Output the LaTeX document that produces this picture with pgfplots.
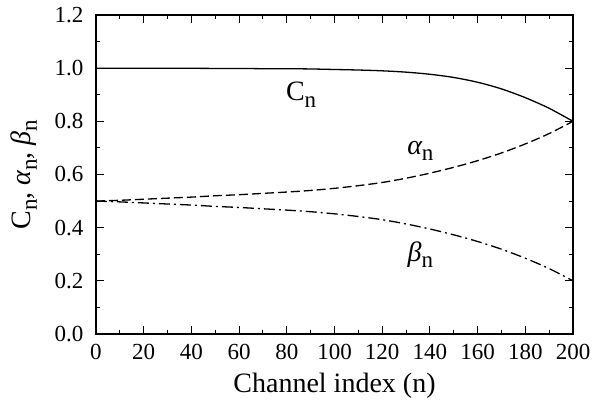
\documentclass[border=0pt]{standalone}
\usepackage{fontspec}
\setmainfont{Liberation Serif}
\usepackage{pgfplots}
\pgfplotsset{compat=1.18}
\newcommand{\sub}[1]{\raisebox{-0.22em}{\scalebox{0.82}{#1}}}
\begin{document}
\begin{tikzpicture}
\begin{axis}[
  name=ax,
  scale only axis, width=477pt, height=319pt,
  xmin=0, xmax=200, ymin=0, ymax=1.2,
  xtick={0,20,40,60,80,100,120,140,160,180,200},
  xticklabels={0,20,40,60,80,100,120,140,160,180,200},
  ytick={0,0.2,0.4,0.6,0.8,1.0,1.2},
  yticklabels={0.0,0.2,0.4,0.6,0.8,1.0,1.2},
  minor x tick num=1, minor y tick num=1,
  tick align=inside, major tick length=8pt, minor tick length=4pt,
  axis line style={line width=1.2pt},
  every tick/.style={black, line width=1pt},
  tick label style={font=\fontsize{23}{27}\selectfont},
  xticklabel shift=7pt, yticklabel shift=9pt,
  label style={font=\fontsize{28}{32}\selectfont},
  xlabel={Channel index (n)},
  ylabel={C\sub{n}, {\itshape α}\sub{n}, {\itshape β}\sub{n}},
  xlabel shift=6pt, ylabel shift=11pt,
]
\addplot[black, line width=1.3pt, smooth] coordinates {
(0,1.0) (10,1.0) (20,1.0) (30,1.0) (40,0.9995) (50,0.999) (60,0.999) (70,0.998)
(80,0.998) (90,0.997) (100,0.995) (110,0.993) (120,0.99) (130,0.985) (140,0.977)
(150,0.965) (160,0.947) (170,0.922) (180,0.889) (190,0.849) (200,0.8)};
\addplot[black, line width=1.3pt, smooth, dash pattern=on 9pt off 4pt] coordinates {
(0,0.5) (10,0.503) (20,0.507) (30,0.511) (40,0.515) (50,0.52) (60,0.524) (70,0.529)
(80,0.534) (90,0.54) (100,0.548) (110,0.558) (120,0.57) (130,0.586) (140,0.605)
(150,0.627) (160,0.652) (170,0.681) (180,0.715) (190,0.754) (200,0.8)};
\addplot[black, line width=1.3pt, smooth, dash pattern=on 11pt off 4pt on 2pt off 4pt] coordinates {
(0,0.5) (10,0.497) (20,0.493) (30,0.489) (40,0.485) (50,0.48) (60,0.476) (70,0.471)
(80,0.466) (90,0.46) (100,0.452) (110,0.442) (120,0.43) (130,0.414) (140,0.395)
(150,0.373) (160,0.348) (170,0.319) (180,0.285) (190,0.246) (200,0.2)};
\node[font=\fontsize{28}{32}\selectfont] at (axis cs:86,0.9) {C\sub{n}};
\node[font=\fontsize{28}{32}\selectfont] at (axis cs:136,0.69) {{\itshape α}\sub{n}};
\node[font=\fontsize{28}{32}\selectfont] at (axis cs:136,0.30) {{\itshape β}\sub{n}};
\end{axis}
\pgfresetboundingbox
\useasboundingbox ([xshift=-96pt,yshift=-69pt]ax.south west) rectangle ([xshift=20pt,yshift=15pt]ax.north east);
\end{tikzpicture}
\end{document}
